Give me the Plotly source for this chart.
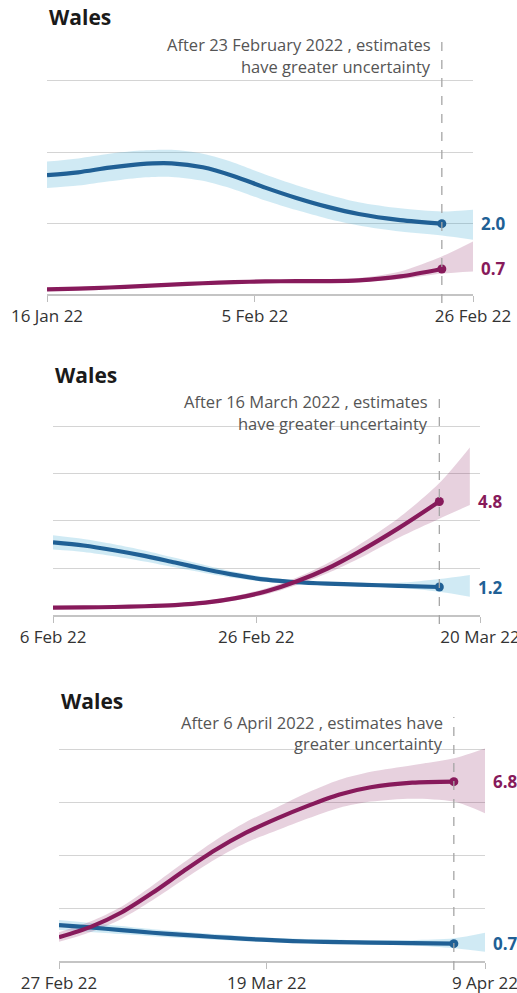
import plotly.graph_objects as go

# ---------------- DATA ----------------
panel_titles = ["Wales", "Wales", "Wales"]
cutoff_text = [
    ["After 23 February 2022 , estimates", "have greater uncertainty"],
    ["After 16 March 2022 , estimates", "have greater uncertainty"],
    ["After 6 April 2022 , estimates have", "greater uncertainty"],
]
cutoff_dates = ["2022-02-23", "2022-03-16", "2022-04-06"]
axis_ranges = [["2022-01-16", "2022-02-26"], ["2022-02-06", "2022-03-20"], ["2022-02-27", "2022-04-09"]]
tick_vals = [["2022-01-16", "2022-02-05", "2022-02-26"],
             ["2022-02-06", "2022-02-26", "2022-03-20"],
             ["2022-02-27", "2022-03-19", "2022-04-09"]]
tick_text = [["16 Jan 22", "5 Feb 22", "26 Feb 22"],
             ["6 Feb 22", "26 Feb 22", "20 Mar 22"],
             ["27 Feb 22", "19 Mar 22", "9 Apr 22"]]
y_max = [6.1, 8.1, 8.3]

# Panel 1
dates_1 = ["2022-01-16", "2022-01-19", "2022-01-22", "2022-01-25", "2022-01-28", "2022-01-31", "2022-02-03",
           "2022-02-06", "2022-02-09", "2022-02-12", "2022-02-15", "2022-02-19", "2022-02-23", "2022-02-26"]
blue_1 = [3.36, 3.44, 3.57, 3.67, 3.69, 3.58, 3.33, 3.01, 2.72, 2.47, 2.27, 2.1, 2.0]
blue_lo_1 = [3.0, 3.07, 3.19, 3.29, 3.31, 3.2, 2.96, 2.65, 2.38, 2.14, 1.95, 1.78, 1.67, 1.55]
blue_hi_1 = [3.74, 3.83, 3.96, 4.05, 4.07, 3.96, 3.71, 3.38, 3.08, 2.82, 2.6, 2.43, 2.34, 2.39]
purple_1 = [0.16, 0.18, 0.21, 0.25, 0.29, 0.33, 0.36, 0.38, 0.39, 0.39, 0.41, 0.52, 0.73]
purple_lo_1 = [0.12, 0.14, 0.17, 0.21, 0.25, 0.29, 0.32, 0.34, 0.35, 0.35, 0.36, 0.44, 0.6, 0.66]
purple_hi_1 = [0.2, 0.22, 0.25, 0.29, 0.33, 0.37, 0.4, 0.42, 0.43, 0.44, 0.48, 0.66, 1.08, 1.5]

# Panel 2
dates_2 = ["2022-02-06", "2022-02-09", "2022-02-12", "2022-02-15", "2022-02-18", "2022-02-21", "2022-02-24",
           "2022-02-27", "2022-03-02", "2022-03-05", "2022-03-08", "2022-03-12", "2022-03-16", "2022-03-19"]
blue_2 = [3.1, 2.97, 2.77, 2.53, 2.25, 1.97, 1.72, 1.53, 1.42, 1.36, 1.32, 1.27, 1.22]
blue_lo_2 = [2.8, 2.7, 2.52, 2.3, 2.05, 1.8, 1.59, 1.43, 1.34, 1.29, 1.25, 1.19, 1.02, 0.81]
blue_hi_2 = [3.4, 3.24, 3.02, 2.76, 2.45, 2.14, 1.85, 1.63, 1.5, 1.44, 1.4, 1.4, 1.56, 1.73]
purple_2 = [0.35, 0.36, 0.38, 0.41, 0.46, 0.56, 0.75, 1.04, 1.46, 2.0, 2.68, 3.7, 4.82]
purple_lo_2 = [0.3, 0.31, 0.33, 0.36, 0.4, 0.49, 0.66, 0.92, 1.31, 1.8, 2.4, 3.3, 4.1, 4.67]
purple_hi_2 = [0.4, 0.41, 0.43, 0.47, 0.53, 0.64, 0.85, 1.17, 1.62, 2.22, 2.97, 4.13, 5.6, 7.1]

# Panel 3
dates_3 = ["2022-02-27", "2022-03-02", "2022-03-05", "2022-03-08", "2022-03-11", "2022-03-14", "2022-03-17",
           "2022-03-20", "2022-03-23", "2022-03-26", "2022-03-29", "2022-04-02", "2022-04-06", "2022-04-09"]
blue_3 = [1.39, 1.3, 1.2, 1.1, 1.02, 0.94, 0.87, 0.81, 0.77, 0.75, 0.73, 0.71, 0.69]
blue_lo_3 = [1.2, 1.13, 1.05, 0.97, 0.9, 0.84, 0.78, 0.73, 0.69, 0.67, 0.65, 0.62, 0.52, 0.39]
blue_hi_3 = [1.58, 1.47, 1.35, 1.23, 1.14, 1.05, 0.97, 0.9, 0.86, 0.84, 0.82, 0.82, 0.89, 1.1]
purple_3 = [0.93, 1.31, 1.86, 2.6, 3.42, 4.2, 4.86, 5.4, 5.88, 6.3, 6.57, 6.74, 6.78]
purple_lo_3 = [0.76, 1.12, 1.62, 2.32, 3.1, 3.85, 4.48, 4.95, 5.4, 5.8, 6.03, 6.14, 6.03, 5.59]
purple_hi_3 = [1.12, 1.52, 2.08, 2.88, 3.74, 4.56, 5.26, 5.82, 6.38, 6.85, 7.15, 7.4, 7.66, 8.03]

panels = [
    (dates_1, blue_1, blue_lo_1, blue_hi_1, purple_1, purple_lo_1, purple_hi_1),
    (dates_2, blue_2, blue_lo_2, blue_hi_2, purple_2, purple_lo_2, purple_hi_2),
    (dates_3, blue_3, blue_lo_3, blue_hi_3, purple_3, purple_lo_3, purple_hi_3),
]

# ---------------- STYLE / LAYOUT ----------------
W, H = 517, 993
BLUE = "#206095"
BLUE_BAND = "rgba(39,160,204,0.22)"
PURPLE = "#871a5b"
PURPLE_BAND = "rgba(135,26,91,0.20)"
FONT = "Open Sans"

# pixel geometry of each plot area: (left, right, px of zero, px per unit) and top of dashed line
geom = [(47, 473, 295, 35.67, 40), (53, 480, 616, 23.75, 397), (59, 485, 962, 26.6, 717)]
title_y = [17, 375, 701]
note_y = [(45, 66), (402, 423), (722, 743)]


def py(px):
    return 1 - px / H


fig = go.Figure()
layout_axes = {}
annotations = []
shapes = []

for i, (dates, b, blo, bhi, p, plo, phi) in enumerate(panels):
    n = i + 1
    xa = "x" if n == 1 else f"x{n}"
    ya = "y" if n == 1 else f"y{n}"
    left, right, bottom, ppu, dash_top = geom[i]
    top = bottom - y_max[i] * ppu
    line_dates = dates[:len(b)]

    for lo, hi, col in [(blo, bhi, BLUE_BAND), (plo, phi, PURPLE_BAND)]:
        fig.add_trace(go.Scatter(x=dates, y=lo, mode="lines",
                                 line=dict(width=0, shape="spline", smoothing=0.8, color=col),
                                 xaxis=xa, yaxis=ya, showlegend=False, hoverinfo="skip"))
        fig.add_trace(go.Scatter(x=dates, y=hi, mode="lines", fill="tonexty", fillcolor=col,
                                 line=dict(width=0, shape="spline", smoothing=0.8, color=col),
                                 xaxis=xa, yaxis=ya, showlegend=False, hoverinfo="skip"))

    for vals, col in [(b, BLUE), (p, PURPLE)]:
        fig.add_trace(go.Scatter(x=line_dates, y=vals, mode="lines",
                                 line=dict(width=4.2, shape="spline", smoothing=0.8, color=col),
                                 xaxis=xa, yaxis=ya, showlegend=False))
        fig.add_trace(go.Scatter(x=[line_dates[-1]], y=[vals[-1]], mode="markers",
                                 marker=dict(size=9, color=col, line=dict(width=0)),
                                 xaxis=xa, yaxis=ya, showlegend=False))
        annotations.append(dict(x=dates[-1], y=vals[-1], xref=xa, yref=ya, text=f"<b>{vals[-1]:.1f}</b>",
                                showarrow=False, xanchor="left", yanchor="middle", xshift=6,
                                font=dict(family=FONT, size=17, color=col)))

    key = "" if n == 1 else str(n)
    layout_axes[f"xaxis{key}"] = dict(
        domain=[left / W, right / W], anchor=ya, type="date", range=axis_ranges[i], automargin=False,
        tickvals=tick_vals[i], ticktext=tick_text[i], ticks="outside", ticklen=6, tickcolor="#bdbdbd",
        ticklabeloverflow="allow",
        showgrid=False, showline=False, zeroline=False,
        tickfont=dict(family=FONT, size=17, color="#333333"),
    )
    layout_axes[f"yaxis{key}"] = dict(
        domain=[py(bottom), py(top)], anchor=xa, range=[0, y_max[i]], dtick=2, showticklabels=False,
        automargin=False,
        showgrid=True, gridcolor="#d4d4d4", gridwidth=1, zeroline=True, zerolinecolor="#c4c4c4",
        zerolinewidth=1.5, showline=False, ticks="",
    )

    shapes.append(dict(type="line", xref=xa, yref="paper", x0=cutoff_dates[i], x1=cutoff_dates[i],
                       y0=py(bottom + 8), y1=py(dash_top), line=dict(color="#a6a6a6", width=1.3, dash="dash")))

    annotations.append(dict(x=left / W, y=py(title_y[i]), xref="paper", yref="paper", text="<b>Wales</b>",
                            showarrow=False, xanchor="left", yanchor="middle",
                            font=dict(family=FONT, size=21, color="#1a1a1a")))
    for line_txt, ly in zip(cutoff_text[i], note_y[i]):
        annotations.append(dict(x=cutoff_dates[i], y=py(ly), xref=xa, yref="paper", text=line_txt,
                                showarrow=False, xanchor="right", yanchor="middle", align="right", xshift=-9,
                                font=dict(family=FONT, size=16.5, color="#555555")))

fig.update_layout(
    width=W, height=H, margin=dict(l=0, r=0, t=0, b=0, autoexpand=False),
    paper_bgcolor="white", plot_bgcolor="white",
    annotations=annotations, shapes=shapes, showlegend=False,
    **layout_axes,
)

fig.write_html("out.html", config={"displayModeBar": False})
